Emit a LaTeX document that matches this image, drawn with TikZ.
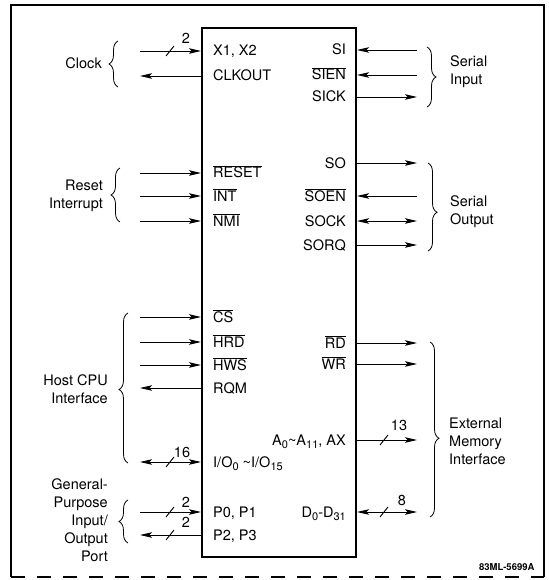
\documentclass[tikz,border=0pt]{standalone}
\usepackage{fontspec}
\setmainfont{TeX Gyre Heros}
\usetikzlibrary{arrows.meta, positioning, calc, decorations.pathreplacing}

\newcommand{\lowidx}[1]{\raisebox{-3pt}{\fontsize{11}{11}\selectfont #1}}
\newcommand{\ovl}[1]{$\overline{\mbox{#1}}$}

\tikzset{
    chipbox/.style={draw, line width=2pt, minimum width=154pt, minimum height=529pt, inner sep=0pt},
    pinl/.style={anchor=west, inner sep=0pt, text height=10pt, text depth=0pt},
    pinr/.style={anchor=east, inner sep=0pt, text height=10pt, text depth=0pt},
    sig/.style={line width=0.9pt},
    grpl/.style={align=right, anchor=east, inner sep=0pt},
    grpr/.style={align=left, anchor=west, inner sep=0pt},
    grpbrace/.style={decorate, decoration={brace, amplitude=9pt}, line width=0.8pt},
    buswidth/.style={inner sep=0pt},
}

\begin{document}
\begin{tikzpicture}[x=1pt, y=-1pt, >={Stealth[length=12pt,width=5.5pt,inset=2.5pt]},
    font=\fontsize{14.5}{18}\selectfont]
    \useasboundingbox (0,0) rectangle (548,580);

    % frame
    \draw[line width=1.2pt] (11,577) -- (11,5) -- (544,5) -- (544,577);
    \draw[line width=1.2pt, dash pattern=on 14pt off 12pt] (11,577) -- (544,577);

    % the chip
    \node[chipbox] (chip) at (279,292.5) {};

    % left side pins
    \foreach \pn/\py/\ptxt/\dir in {
        x1/51/{X1,\ X2}/->,
        clk/76/CLKOUT/<-,
        rst/173/{\ovl{RESET}}/->,
        int/196/{\ovl{INT}}/->,
        nmi/221/{\ovl{NMI}}/->,
        cs/317/{\ovl{CS}}/->,
        hrd/342/{\ovl{HRD}}/->,
        hws/365/{\ovl{HWS}}/->,
        rqm/388/RQM/<-,
        io/462/{I/O\lowidx{0} \textasciitilde I/O\lowidx{15}}/<->,
        pa/512/{P0, P1}/->,
        pb/535/{P2, P3}/<-}{
        \node[pinl] (\pn) at (213,\py) {\ptxt};
        \coordinate (\pn-x) at (140,\py);
        \draw[sig,\dir] (\pn-x) -- (chip.west |- \pn);
    }

    % right side pins
    \foreach \pn/\py/\ptxt/\dir in {
        si/50/SI/<-,
        sien/75/{\ovl{SIEN}}/<-,
        sick/97/SICK/->,
        so/163/SO/->,
        soen/196/{\ovl{SOEN}}/<-,
        sock/221/SOCK/<->,
        sorq/245/SORQ/->,
        rd/343/{\ovl{RD}}/->,
        wr/364/{\ovl{WR}}/->,
        addr/440/{A\lowidx{0}\textasciitilde A\lowidx{11}, AX}/->,
        data/512/{D\lowidx{0}-D\lowidx{31}}/<->}{
        \node[pinr] (\pn) at (346,\py) {\ptxt};
        \coordinate (\pn-x) at (417,\py);
        \draw[sig,\dir] (chip.east |- \pn) -- (\pn-x);
    }

    % bus width marks
    \foreach \pn/\sx/\nx/\ny/\num in {x1/170/186/38/2, io/170/182/452/16, pa/170/186/502/2,
        pb/170/186/522/2, addr/384/399/425/13, data/384/402/500/8}{
        \draw[sig] ($(\sx,0 |- \pn)+(-4,5)$) -- ++(8,-10);
        \node[buswidth] (\pn-w) at (\nx,\ny) {\num};
    }

    % groups, left
    \node[grpl] (clock) at (102,63) {Clock};
    \node[grpl] (reset) at (103,195.5) {Reset\\Interrupt};
    \node[grpl] (host) at (108,389) {Host CPU\\Interface};
    \node[grpl] (gpio) at (108,520) {General-\\Purpose\\Input/\\Output\\Port};
    \draw[grpbrace] (118,87) -- (118,41);
    \draw[grpbrace] (120,222) -- (120,168);
    \draw[grpbrace, decoration={aspect=0.49}] (128,463) -- (128,313);
    \draw[grpbrace] (128,543) -- (128,500);

    % groups, right
    \node[grpr] (serin) at (450,72) {Serial\\Input};
    \node[grpr] (serout) at (450,211.5) {Serial\\Output};
    \node[grpr] (extmem) at (449,441) {External\\Memory\\Interface};
    \draw[grpbrace] (427,47) -- (427,107);
    \draw[grpbrace, decoration={aspect=0.56}] (428,163) -- (428,251);
    \draw[grpbrace, decoration={aspect=0.55}] (430,342) -- (430,517);

    \node[anchor=east, font=\fontsize{9.5}{10}\selectfont\bfseries] (figno) at (538,567) {83ML-5699A};
\end{tikzpicture}
\end{document}
